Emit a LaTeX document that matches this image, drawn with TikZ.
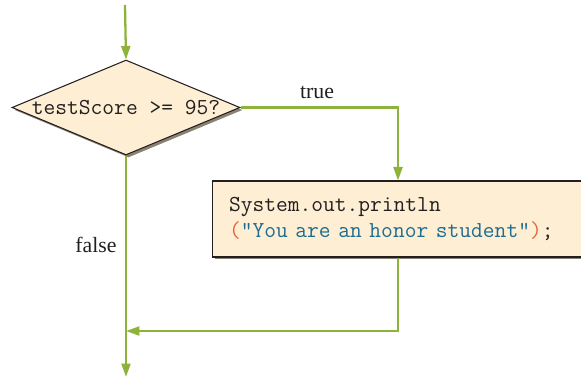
\documentclass[tikz,border=0pt]{standalone}
\usepackage{fontspec}
\setmainfont{Liberation Serif}
\usepackage{xcolor}
\usepackage{tikz}
\usetikzlibrary{arrows.meta,positioning,calc,shapes.geometric,shadows}
\definecolor{ink}{HTML}{231F20}
\definecolor{lime}{HTML}{8DB33A}
\definecolor{cream}{HTML}{FEEFD4}
\definecolor{shade}{HTML}{8A8272}
\definecolor{paren}{HTML}{E8643C}
\definecolor{strg}{HTML}{1E6C8E}
\tikzset{
  shadowed/.style={drop shadow={shadow xshift=.05cm, shadow yshift=-.05cm, fill=shade, opacity=1}},
  dec/.style  ={diamond, draw=ink, fill=cream, line width=.6pt, inner sep=0pt,
                minimum width=4.56cm, minimum height=1.9cm, shadowed},
  act/.style  ={rectangle, draw=ink, fill=cream, line width=.6pt, align=left,
                minimum width=7.44cm, minimum height=1.52cm, inner xsep=.34cm,
                text width=6.76cm, shadowed, text=ink,
                font=\ttfamily\fontsize{13}{15.3}\selectfont},
  cond/.style ={font=\ttfamily\fontsize{13}{15}\selectfont, text=ink, inner sep=0pt},
  lbl/.style  ={font=\fontsize{12.4}{14}\selectfont, text=ink, inner sep=0pt},
  flow/.style ={-{Triangle[length=.27cm,width=.18cm]}, line width=1.3pt, draw=lime},
}

\begin{document}
\begin{tikzpicture}[x=.02cm, y=-.02cm]
  \useasboundingbox (0,0) rectangle (581,375);
  \coordinate (start) at (125,5);
  \node[dec](test) at (126,107.5){};
  \node[cond] (testtxt) at (test.center){testScore >= 95?};
  \node[act](print) at (398,219){System.out.println\\
    {\color{paren}(}{\color{strg}"You are an honor student"}{\color{paren})};};
  \coordinate (join) at (126,331);
  \coordinate (stop) at (126,377);
  % labels
  \node[lbl](truelbl) at (317,92){true};
  \node[lbl](falselbl) at (96,245){false};
  % connectors
  \draw[flow](start)--(test.north);
  \draw[flow](test.east) -| (print.north);
  \draw[flow](print.south) |- (join);
  \draw[flow](test.south)--(stop);
\end{tikzpicture}
\end{document}
